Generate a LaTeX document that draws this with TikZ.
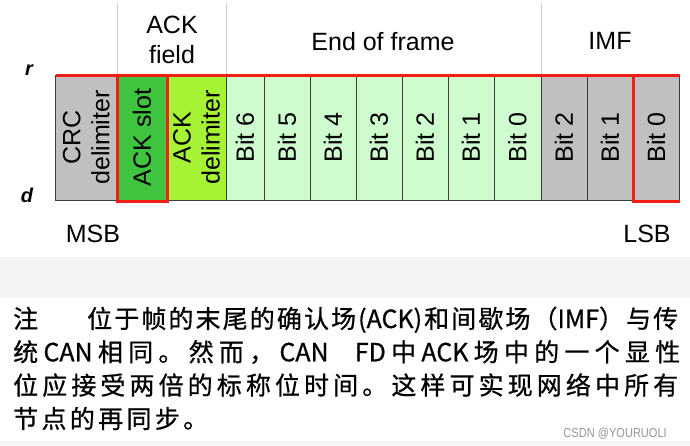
\documentclass[tikz,border=0pt]{standalone}
\usepackage{fontspec}
\setmainfont{Liberation Sans}
\newfontfamily\cjkfont[FakeBold=0.7]{Noto Sans CJK SC}
\definecolor{cellgray}{RGB}{192,192,192}
\definecolor{slotgreen}{RGB}{62,196,62}
\definecolor{delgreen}{RGB}{166,242,52}
\definecolor{bitgreen}{RGB}{206,252,206}
\definecolor{hired}{RGB}{240,30,20}
\definecolor{edgec}{RGB}{60,60,60}
\definecolor{bandc}{RGB}{243,243,243}
\definecolor{sepgray}{RGB}{205,205,205}
\definecolor{wmgray}{RGB}{150,150,150}
\newcommand\jline[2]{{\spaceskip=0pt plus 1fil\xspaceskip=0pt plus 1fil\makebox[#1pt][s]{#2}}}
\tikzset{
  cell/.style={draw=edgec, line width=0.9pt, inner sep=0pt, outer sep=0pt,
    minimum width=125pt, rotate=90, align=center,
    font=\fontsize{25}{29}\selectfont},
  hdr/.style={inner sep=0pt, anchor=base, font=\fontsize{25}{30}\selectfont},
  axl/.style={inner sep=0pt, anchor=base, font=\fontsize{20}{20}\selectfont\bfseries\itshape},
  redl/.style={draw=hired, line width=3pt},
  sepl/.style={draw=sepgray, line width=0.8pt},
  para/.style={inner sep=0pt, anchor=base west, font=\fontsize{25}{33}\selectfont\cjkfont},
}
\begin{document}
\begin{tikzpicture}[x=1pt,y=-1pt]
\useasboundingbox (0,0) rectangle (690,445);
\fill[white] (0,0) rectangle (690,445);
\fill[bandc] (0,257) rectangle (690,298);
\fill[bandc] (0,441) rectangle (690,445);

% header separators
\draw[sepl] (117,3) -- (117,74);
\draw[sepl] (226,3) -- (226,74);
\draw[sepl] (541,3) -- (541,74);

% header labels
\node[hdr] (ackfa) at (172,33) {ACK};
\node[hdr] (ackfb) at (172,63) {field};
\node[hdr] (eof) at (383,50) {End of frame};
\node[hdr] (imf) at (610,49) {IMF};

% axis labels
\node[axl] (rlab) at (29,75) {r};
\node[axl] (dlab) at (27,202) {d};

% cells
\node[cell, fill=cellgray, minimum height=61.5pt] (crc) at (86.25,137.5) {CRC\\delimiter};
\node[cell, fill=slotgreen, minimum height=50pt] (slot) at (142,137.5) {ACK slot};
\node[cell, fill=delgreen, minimum height=59pt] (ackdel) at (196.5,137.5) {ACK\\delimiter};
\node[cell, fill=bitgreen, minimum height=38pt] (e6) at (245,137.5) {Bit 6};
\node[cell, fill=bitgreen, minimum height=46pt] (e5) at (287,137.5) {Bit 5};
\node[cell, fill=bitgreen, minimum height=46pt] (e4) at (333,137.5) {Bit 4};
\node[cell, fill=bitgreen, minimum height=46pt] (e3) at (379,137.5) {Bit 3};
\node[cell, fill=bitgreen, minimum height=46pt] (e2) at (425,137.5) {Bit 2};
\node[cell, fill=bitgreen, minimum height=46pt] (e1) at (471,137.5) {Bit 1};
\node[cell, fill=bitgreen, minimum height=47pt] (e0) at (517.5,137.5) {Bit 0};
\node[cell, fill=cellgray, minimum height=46pt] (i2) at (564,137.5) {Bit 2};
\node[cell, fill=cellgray, minimum height=46pt] (i1) at (610,137.5) {Bit 1};
\node[cell, fill=cellgray, minimum height=46.5pt] (i0) at (656.25,137.5) {Bit 0};

% red highlights
\draw[redl] (55.5,75) -- (679.5,75);
\draw[redl] (117,75) rectangle (167,201.5);
\draw[redl] (633,75) -- (633,201.5) -- (679.5,201.5);
\draw[draw=edgec, line width=0.9pt] (679.5,76.5) -- (679.5,200);

% MSB / LSB
\node[hdr] (msb) at (93,242) {MSB};
\node[hdr] (lsb) at (647,242) {LSB};

% paragraph
\node[para] (p1a) at (13,328) {注};
\node[para] (p1b) at (87,328) {\jline{591}{位 于 帧 的 末 尾 的 确 认 场 (ACK) 和 间 歇 场 （IMF） 与 传}};
\node[para] (p2) at (13,361.3) {\jline{667}{统 CAN 相 同 。 然 而 ， CAN\hspace{0pt plus 4fil} FD 中 ACK 场 中 的 一 个 显 性}};
\node[para] (p3) at (13,394.6) {\jline{665}{位 应 接 受 两 倍 的 标 称 位 时 间 。 这 样 可 实 现 网 络 中 所 有}};
\node[para] (p4) at (13,428) {\jline{195}{节 点 的 再 同 步 。}};

% watermark
\node[inner sep=0pt, anchor=base east, text=wmgray, font=\fontsize{13}{13}\selectfont] (wm) at (667,437) {\scalebox{0.85}[1]{CSDN @YOURUOLI}};
\end{tikzpicture}
\end{document}
